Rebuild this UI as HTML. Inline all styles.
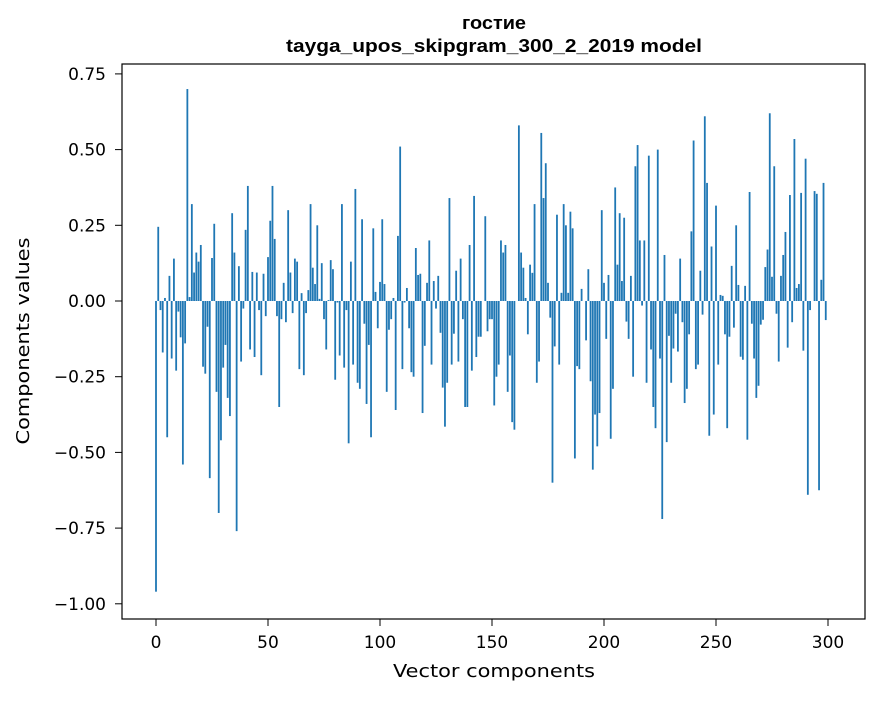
<!DOCTYPE html>
<html><head><meta charset="utf-8"><style>
html,body{margin:0;padding:0;background:#fff;}
svg text{font-family:"DejaVu Sans","Liberation Sans",sans-serif;fill:#000;}
svg text.title{font-family:"Liberation Sans","DejaVu Sans",sans-serif;}
</style></head><body>
<svg id="chart" width="880" height="696" xmlns="http://www.w3.org/2000/svg">
<text class="title" x="494" y="29" text-anchor="middle" font-size="18" font-weight="bold" textLength="64" lengthAdjust="spacingAndGlyphs">гостие</text>
<text class="title" x="494" y="52" text-anchor="middle" font-size="18" font-weight="bold" textLength="416" lengthAdjust="spacingAndGlyphs">tayga_upos_skipgram_300_2_2019 model</text>
<g id="bars"></g>
<g id="axes"></g>
<rect x="122" y="64" width="743" height="555" fill="none" stroke="#000" stroke-width="1.2"/>
<text x="494" y="677" text-anchor="middle" font-size="18" textLength="202" lengthAdjust="spacingAndGlyphs">Vector components</text>
<text transform="translate(29,341) rotate(-90)" text-anchor="middle" font-size="18" textLength="207" lengthAdjust="spacingAndGlyphs">Components values</text>
</svg>
<script>
const values = [
-0.96,0.245,-0.03,-0.17,0.01,-0.45,0.083,-0.19,0.14,-0.23,
-0.035,-0.12,-0.54,-0.14,0.70,0.013,0.32,0.094,0.16,0.13,
0.185,-0.217,-0.24,-0.085,-0.585,0.142,0.255,-0.30,-0.70,-0.46,
-0.22,-0.145,-0.32,-0.38,0.29,0.16,-0.76,0.115,-0.20,-0.025,
0.235,0.38,-0.16,0.096,-0.185,0.094,-0.03,-0.245,0.09,-0.05,
0.145,0.265,0.38,0.205,-0.05,-0.35,-0.06,0.06,-0.07,0.30,
0.094,-0.04,0.14,0.13,-0.225,0.026,-0.245,-0.04,0.036,0.32,
0.11,0.056,0.25,0.007,0.125,-0.06,-0.16,0.003,0.135,0.105,
-0.26,-0.005,-0.18,0.32,-0.22,-0.03,-0.47,0.13,-0.21,0.37,
-0.27,-0.29,0.27,-0.075,-0.34,-0.145,-0.45,0.24,0.03,-0.09,
0.063,0.27,0.056,-0.30,-0.095,-0.06,0.01,-0.36,0.215,0.51,
-0.225,-0.005,0.043,-0.09,-0.235,-0.25,0.175,0.086,0.09,-0.37,
-0.148,0.06,0.20,-0.21,0.066,-0.025,0.083,-0.105,-0.286,-0.415,
-0.27,0.34,-0.21,-0.108,0.10,-0.20,0.14,-0.06,-0.35,-0.35,
0.185,-0.23,0.347,-0.185,-0.118,-0.118,0.0,0.28,-0.10,-0.06,
-0.06,-0.345,-0.25,-0.21,0.20,0.16,0.185,-0.30,-0.18,-0.40,
-0.425,0.0,0.58,0.16,0.11,0.01,-0.11,0.12,0.093,0.32,
-0.27,-0.20,0.555,0.34,0.455,0.06,-0.055,-0.60,-0.15,0.285,
-0.21,0.027,0.32,0.25,0.027,0.295,0.24,-0.52,-0.215,-0.225,
0.04,0.0,-0.13,0.105,-0.265,-0.557,-0.375,-0.48,-0.37,0.30,
0.06,-0.125,0.086,-0.455,-0.29,0.375,0.12,0.29,0.066,0.275,
-0.068,-0.125,0.083,-0.25,0.445,0.515,0.20,-0.015,0.20,-0.27,
0.48,-0.16,-0.35,-0.42,0.50,-0.19,-0.72,0.152,-0.466,-0.115,
-0.27,-0.157,-0.042,-0.167,0.14,-0.07,-0.337,-0.29,-0.11,0.23,
0.53,-0.225,-0.21,0.10,-0.045,0.61,0.39,-0.445,0.18,-0.375,
0.315,-0.21,0.02,0.017,-0.11,-0.42,-0.118,0.116,-0.088,0.25,
0.053,-0.184,-0.194,0.05,-0.458,0.36,-0.075,-0.19,-0.32,-0.28,
-0.078,-0.062,0.112,0.17,0.62,0.08,0.445,-0.042,-0.20,0.083,
0.152,0.228,-0.154,0.35,-0.07,0.535,0.043,0.056,0.357,-0.164,
0.47,-0.64,-0.03,0.0,0.363,0.354,-0.625,0.07,0.39,-0.063
];
const xTicks = [0,50,100,150,200,250,300];
const yTicks = [0.75,0.5,0.25,0,-0.25,-0.5,-0.75,-1.0];
const yTickLabels = ["0.75","0.50","0.25","0.00","\u22120.25","\u22120.50","\u22120.75","\u22121.00"];

const NS="http://www.w3.org/2000/svg";
function xs(i){return 156 + i*2.24;}
function ys(v){return 301 - v*302.8;}
const bars=document.getElementById('bars');
values.forEach((v,i)=>{
  const r=document.createElementNS(NS,'rect');
  const y0=ys(0), y1=ys(v);
  r.setAttribute('x',xs(i)-0.9);
  r.setAttribute('width',1.8);
  r.setAttribute('y',Math.min(y0,y1));
  r.setAttribute('height',Math.abs(y1-y0));
  r.setAttribute('fill','#1f77b4');
  
  
  bars.appendChild(r);
});
const axes=document.getElementById('axes');
xTicks.forEach(t=>{
  const l=document.createElementNS(NS,'line');
  l.setAttribute('x1',xs(t));l.setAttribute('x2',xs(t));
  l.setAttribute('y1',619);l.setAttribute('y2',626);
  l.setAttribute('stroke','#000');
  
  
  axes.appendChild(l);
  const tx=document.createElementNS(NS,'text');
  tx.setAttribute('x',xs(t));tx.setAttribute('y',648);
  tx.setAttribute('text-anchor','middle');tx.setAttribute('font-size','17');
  tx.textContent=String(t);
  
  
  axes.appendChild(tx);
});
yTicks.forEach((t,k)=>{
  const l=document.createElementNS(NS,'line');
  l.setAttribute('x1',115);l.setAttribute('x2',122);
  l.setAttribute('y1',ys(t));l.setAttribute('y2',ys(t));
  l.setAttribute('stroke','#000');
  
  
  axes.appendChild(l);
  const tx=document.createElementNS(NS,'text');
  tx.setAttribute('x',106);tx.setAttribute('y',ys(t)+6);
  tx.setAttribute('text-anchor','end');tx.setAttribute('font-size','17');
  tx.textContent=yTickLabels[k];
  
  
  axes.appendChild(tx);
});
</script>
</body></html>
